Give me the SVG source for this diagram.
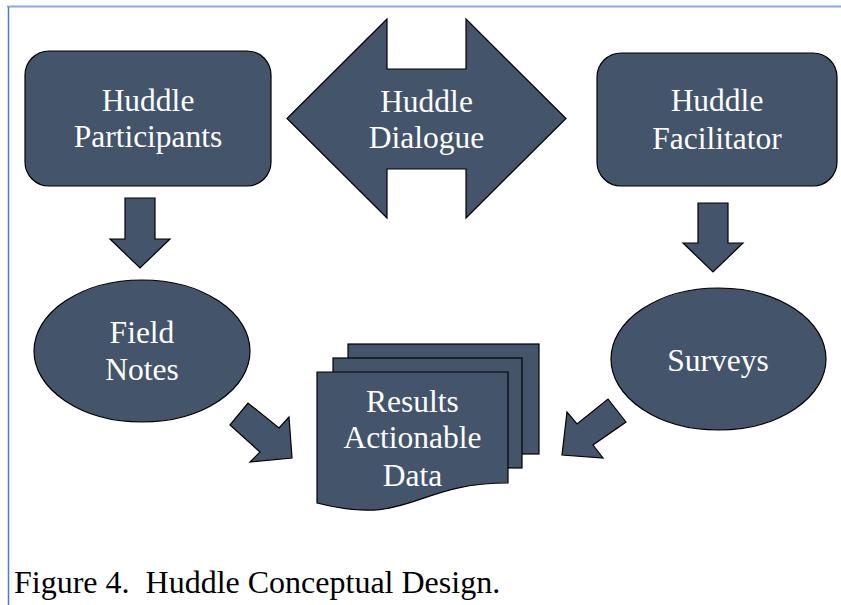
<svg xmlns="http://www.w3.org/2000/svg" width="841" height="605" viewBox="0 0 841 605">
  <style>
    .shape { fill: #44546a; stroke: #000; stroke-width: 1.2; stroke-linejoin: miter; }
    .label { font-family: "Liberation Serif", "Times New Roman", serif; font-size: 31.5px; fill: #fff; text-anchor: middle; }
    .caption { font-family: "Liberation Serif", "Times New Roman", serif; font-size: 32px; fill: #000; }
  </style>
  <rect x="0" y="0" width="841" height="605" fill="#fff"/>

  <!-- page frame edges -->
  <line x1="7" y1="6.5" x2="841" y2="6.5" stroke="#86a9e3" stroke-width="2"/>
  <line x1="8.5" y1="7" x2="8.5" y2="605" stroke="#4a7bd4" stroke-width="1.5"/>

  <g id="huddle-participants">
    <rect class="shape" x="25" y="51" width="246" height="135" rx="24" ry="24"/>
    <text class="label" x="148" y="111">Huddle</text>
    <text class="label" x="148" y="147">Participants</text>
  </g>

  <g id="huddle-dialogue">
    <polygon class="shape" points="287,118.5 387,19 387,69 466,69 466,19 566,118.5 466,218 466,169 387,169 387,218"/>
    <text class="label" x="426.5" y="112">Huddle</text>
    <text class="label" x="426.5" y="148">Dialogue</text>
  </g>

  <g id="huddle-facilitator">
    <rect class="shape" x="597" y="53" width="240" height="133" rx="24" ry="24"/>
    <text class="label" x="717" y="111">Huddle</text>
    <text class="label" x="717" y="149">Facilitator</text>
  </g>

  <g id="field-notes">
    <ellipse class="shape" cx="142" cy="351" rx="108" ry="71"/>
    <text class="label" x="142" y="343">Field</text>
    <text class="label" x="142" y="380">Notes</text>
  </g>

  <g id="surveys">
    <ellipse class="shape" cx="718.5" cy="359" rx="107.5" ry="71"/>
    <text class="label" x="718" y="371">Surveys</text>
  </g>

  <g id="results">
    <rect class="shape" x="348" y="344" width="191" height="110"/>
    <rect class="shape" x="333" y="358" width="189" height="110"/>
    <path class="shape" d="M317,372 H508 V483 C412.5,483 412.5,527 317,503 Z"/>
    <text class="label" x="412.5" y="412">Results</text>
    <text class="label" x="412.5" y="448">Actionable</text>
    <text class="label" x="412.5" y="486">Data</text>
  </g>

  <g id="connectors">
    <polygon class="shape" points="125,198 155,198 155,239 170,239 140,268 110,239 125,239"/>
    <polygon class="shape" points="698,203 728,203 728,243 743,243 713,272 683,243 698,243"/>
    <polygon class="shape" points="230,425 248,403 279,428 289,417 292,458 250,462 260,452"/>
    <polygon class="shape" points="608,399 626,422 593,445 603,458 562,455 567,412 577,424"/>
  </g>

  <text class="caption" x="14" y="593" xml:space="preserve">Figure 4.  Huddle Conceptual Design.</text>
</svg>
